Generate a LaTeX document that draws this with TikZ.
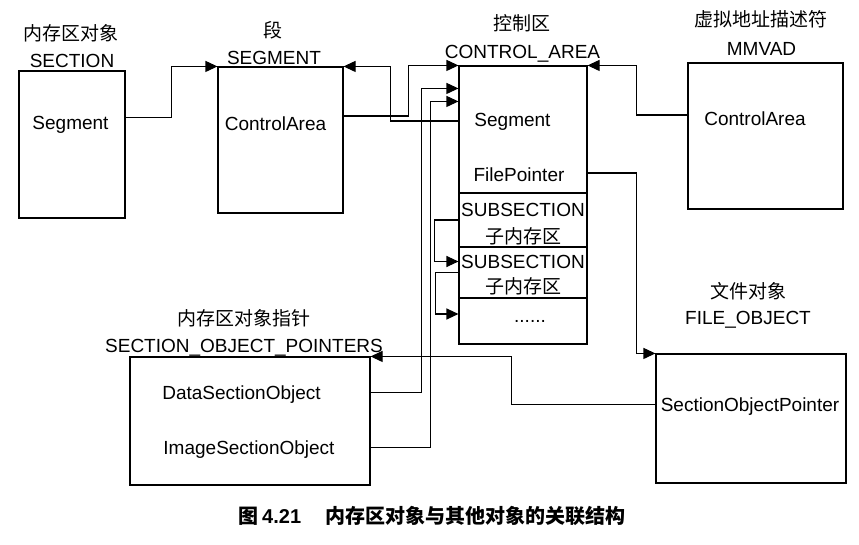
\documentclass[tikz,border=0pt]{standalone}
\usepackage{fontspec}
\setmainfont{Liberation Sans}
\newfontfamily\cjk{Noto Sans CJK SC}
\usetikzlibrary{arrows.meta,calc}
\begin{document}
\begin{tikzpicture}[x=1pt,y=-1pt,
  box/.style={draw,line width=1.1pt,inner sep=0pt},
  lbl/.style={inner sep=0pt,text height=14pt,text depth=0pt,font=\fontsize{19}{23}\selectfont},
  link/.style={line width=1.1pt,-{Triangle[length=12pt,width=11pt]}}]
\useasboundingbox (0,0) rectangle (859,545);

\node[box,minimum width=106pt,minimum height=147pt] (sec) at (72,144.5) {};
\node[lbl] (secCn) at (71,33.5) {\cjk 内存区对象};
\node[lbl] (secEn) at (72,60.5) {SECTION};
\node[lbl] (secSeg) at (70.5,122.5) {Segment};

\node[box,minimum width=125pt,minimum height=146pt] (seg) at (280.5,140) {};
\node[lbl] (segCn) at (273,31) {\cjk 段};
\node[lbl] (segEn) at (274,57.5) {SEGMENT};
\node[lbl] (segCA) at (275.5,124) {ControlArea};

\node[box,minimum width=128pt,minimum height=127pt] (ca) at (523,129.5) {};
\node[box,minimum width=128pt,minimum height=54pt] (sub1) at (523,220) {};
\node[box,minimum width=128pt,minimum height=51pt] (sub2) at (523,272.5) {};
\node[box,minimum width=128pt,minimum height=46pt] (dots) at (523,321) {};
\node[lbl] (caCn) at (521.5,24) {\cjk 控制区};
\node[lbl] (caEn) at (522.5,51.5) {CONTROL\_AREA};
\node[lbl] (caSeg) at (512.5,120) {Segment};
\node[lbl] (caFP) at (519,175) {FilePointer};
\node[lbl] (sub1En) at (523,210) {SUBSECTION};
\node[lbl] (sub1Cn) at (523,236.5) {\cjk 子内存区};
\node[lbl] (sub2En) at (523,261.5) {SUBSECTION};
\node[lbl] (sub2Cn) at (523,287) {\cjk 子内存区};
\node[lbl] (dotsTxt) at (530,315) {......};

\node[box,minimum width=155pt,minimum height=146pt] (vad) at (765.5,136) {};
\node[lbl] (vadCn) at (760.5,19.5) {\cjk 虚拟地址描述符};
\node[lbl] (vadEn) at (761.5,48.5) {MMVAD};
\node[lbl] (vadCA) at (755,119) {ControlArea};

\node[box,minimum width=190pt,minimum height=129pt] (fo) at (751,418.5) {};
\node[lbl] (foCn) at (748.5,291.5) {\cjk 文件对象};
\node[lbl] (foEn) at (748,317.5) {FILE\_OBJECT};
\node[lbl] (foSOP) at (750,404.5) {SectionObjectPointer};

\node[box,minimum width=240pt,minimum height=128pt] (sop) at (250,421) {};
\node[lbl] (sopCn) at (244,318.5) {\cjk 内存区对象指针};
\node[lbl] (sopEn) at (244,345) {SECTION\_OBJECT\_POINTERS};
\node[lbl] (sopData) at (241.5,392.5) {DataSectionObject};
\node[lbl] (sopImage) at (249,447.5) {ImageSectionObject};

\draw[link] ($(sec.east|-secSeg)+(0,-5)$) -- ++(46,0) |- (seg.north west);
\draw[link] ($(seg.east|-segCA)+(0,-8)$) -- ++(65,0) |- (ca.north west);
\draw[link] ($(ca.west|-caSeg)+(0,1)$) -- ++(-68,0) |- (seg.north east);
\draw[link] ($(vad.west|-vadCA)+(0,-4)$) -- ++(-51,0) |- (ca.north east);
\draw[link] ($(ca.east|-caFP)+(0,-2)$) -- ++(49,0) |- (fo.north west);
\draw[link] (fo.west|-foSOP) -- ++(-144,0) |- (sop.north east);
\draw[link] (sop.east|-sopData) -- ++(51,0) |- ($(ca.north west)+(0,23)$);
\draw[link] (sop.east|-sopImage) -- ++(60,0) |- ($(ca.north west)+(0,36)$);
\draw[link] (sub1.west) -- ++(-24,0) |- (sub2.west|-sub2En);
\draw[link] (sub2.west) -- ++(-23,0) |- ($(dots.west)+(0,-7)$);

\node[font=\fontsize{20}{24}\selectfont\bfseries] (cap) at (432,516) {{\cjk 图}\,4.21\hspace{24pt}{\cjk 内存区对象与其他对象的关联结构}};
\end{tikzpicture}
\end{document}
